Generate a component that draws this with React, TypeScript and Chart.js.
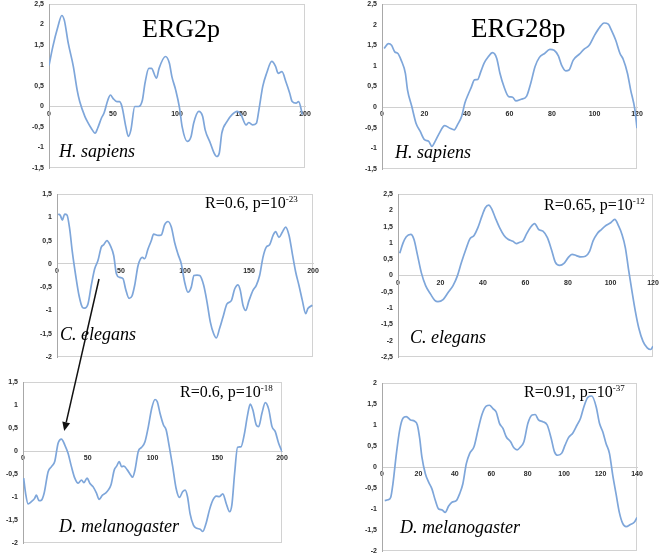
import React, { useEffect, useRef } from "react";
import { Chart, registerables } from "chart.js";

Chart.register(...registerables);

// ---------- DATA ----------
// ERG2p, H. sapiens
const erg2HsX = [0,3,7,10,12,15,19,22,24,28,30,33,36,38,41,43,46,48,50,53,55,57,60,62,64,67,70,73,75,78,80,84,86,91,94,96,99,102,104,108,111,113,117,120,122,126,129,131,133,135,139,143,147,150,154,156,159,162,164,167,170,174,177,179,182,185,188,190,193,195,198];
const erg2HsY = [1.0,1.46,1.95,2.22,2.1,1.55,0.98,0.4,0.12,-0.24,-0.37,-0.53,-0.65,-0.53,-0.28,-0.16,0.16,0.28,0.2,0.12,0.12,0,-0.49,-0.73,-0.57,0,0,0.16,0.57,0.93,0.93,0.69,0.93,1.22,1.06,0.73,0.4,-0.04,-0.49,-0.85,-0.73,-0.41,-0.12,-0.24,-0.57,-0.89,-1.14,-1.22,-1.14,-0.65,-0.37,-0.2,-0.12,-0.2,-0.45,-0.39,-0.45,-0.41,-0.08,0.49,0.81,1.1,0.98,0.81,0.85,0.61,0.33,0.12,0.08,0.12,-0.2];

// ERG28p, H. sapiens
const erg28HsX = [1,3,4.5,6,7.5,9,11,12,14,16,18,20,22,23.5,25,27,29.5,32,34,35.5,37.5,39,40.5,42,43.5,45,46.5,48,50,52,54,55.5,57.5,59.5,61.5,63,65.5,68,70,72,74,76.5,79,81,83,84.5,86.5,88,90,93,95,97.5,100,102.5,104.5,106.5,108,110,112,113.5,115.5,117,119,120];
const erg28HsY = [1.42,1.54,1.5,1.34,1.3,1.14,0.82,0.42,0.02,-0.39,-0.59,-0.79,-0.83,-0.95,-0.83,-0.63,-0.45,-0.51,-0.55,-0.43,-0.22,0.1,0.3,0.48,0.66,0.67,0.86,1.06,1.22,1.32,1.18,0.82,0.48,0.26,0.24,0.15,0.19,0.26,0.58,0.98,1.2,1.3,1.4,1.38,1.24,1.02,0.88,0.9,1.14,1.29,1.4,1.5,1.74,1.94,2.04,2.01,1.86,1.62,1.3,1.16,0.82,0.42,-0.06,-0.51];

// ERG2p, C. elegans
const erg2CeX = [1,2.6,4.2,6,7.8,9.9,12,14.6,17.2,19.8,21.6,24.2,26.8,29.4,32,34.6,36.5,39,41.7,44.3,46.4,49,51.6,53.6,56.3,58.6,60.7,63.3,66.7,68.5,71.1,73.7,75.5,78.9,81.5,84.1,86.7,89.3,91.9,94.5,97.1,99.7,102.3,104.9,107,109.4,111.5,114.6,117.2,119.8,122.4,124.5,127,129.7,132.8,136.2,138.8,141.4,143.2,145.3,147.4,150,153.1,155.7,158.3,160.9,163.5,166.1,168.8,170.8,173.4,176,178.6,181.3,183.9,186.5,189,191.7,194.3,196,199.5];
const erg2CeY = [1.07,1.04,0.94,1.07,1.05,0.75,0.25,-0.25,-0.68,-0.93,-0.95,-0.86,-0.46,-0.11,0.07,0.36,0.41,0.5,0.39,0.18,-0.21,-0.29,-0.32,-0.54,-0.74,-0.69,-0.46,-0.04,0.14,0.11,0.32,0.5,0.64,0.61,0.62,0.84,0.91,0.79,0.46,0.21,0,-0.39,-0.61,-0.5,-0.25,-0.24,-0.25,-0.46,-0.82,-1.25,-1.5,-1.59,-1.39,-1.14,-0.86,-0.79,-0.54,-0.45,-0.57,-0.89,-1,-0.79,-0.57,-0.46,-0.25,0.14,0.36,0.41,0.61,0.69,0.57,0.68,0.79,0.61,0.21,-0.18,-0.46,-0.79,-1.07,-0.96,-0.89];

// ERG28p, C. elegans
const erg28CeX = [0.8,2.4,3.9,6,7.5,9.1,11,13,15.4,17.3,18.8,21.2,23.5,25.9,27.9,29.8,32.2,33.7,35.8,37.6,39.5,41.1,42.7,44.2,45.8,47.8,49.9,51.8,54.1,55.7,57.3,58.8,60.4,62.3,64.3,66.2,68.2,70.3,72.2,74,76.1,78.1,80,81.9,83.9,86,88.2,90.2,91.8,93.8,95.7,98,100.1,102,103.8,105.4,107,108.5,110.1,111.7,113.3,115.3,117.3,118.9,120];
const erg28CeY = [0.68,1.0,1.19,1.26,1.11,0.65,0.08,-0.31,-0.58,-0.76,-0.8,-0.74,-0.53,-0.31,-0.02,0.39,0.85,1.11,1.23,1.47,1.82,2.08,2.16,2.03,1.77,1.47,1.23,1.11,1.05,0.98,1.02,1.06,1.26,1.47,1.59,1.41,1.36,1.16,0.8,0.41,0.31,0.37,0.54,0.65,0.61,0.57,0.59,0.75,1.06,1.29,1.41,1.54,1.62,1.72,1.52,1.26,0.85,0.18,-0.48,-1.1,-1.61,-2.02,-2.22,-2.27,-2.17];

// ERG2p, D. melanogaster
const erg2DmX = [0.5,2,3.9,6.5,9,10.3,12.4,14.2,16.3,19.4,22,24.5,27.1,29.7,32.3,34.8,37.4,40,42.6,45.2,47,49.5,51.6,54.2,56.8,58.8,61.4,64,65.8,67.9,70.5,72.3,74.3,76.1,77.9,80.5,83.1,84.6,86.5,89,91.6,94.2,96.8,99.4,102,103.7,105.8,108.4,110.5,113,115.6,118.2,120.8,123.4,125.2,127,129,131.6,134.2,136.8,138.8,141.4,144,146.6,149.2,151.7,154.3,156.9,159.5,161.3,163.4,165.7,168.3,170.8,173.4,175.5,177.5,180.1,182,184.5,187.1,189.7,192.3,194.8,197.4,200];
const erg2DmY = [-0.59,-0.92,-1.15,-1.1,-1.03,-0.96,-1.08,-1.07,-0.92,-0.45,-0.34,-0.23,0.17,0.26,0.13,-0.05,-0.34,-0.59,-0.7,-0.63,-0.69,-0.59,-0.7,-0.78,-0.92,-1.05,-0.96,-0.91,-0.85,-0.74,-0.41,-0.33,-0.23,-0.34,-0.33,-0.41,-0.52,-0.57,-0.41,-0.01,0.08,0.2,0.53,0.93,1.12,1.07,0.82,0.57,0.46,0.09,-0.34,-0.81,-1.01,-0.88,-0.85,-0.99,-1.36,-1.61,-1.68,-1.7,-1.75,-1.57,-1.28,-1.07,-0.98,-0.99,-0.93,-1.14,-1.32,-1.17,-0.49,0.08,0.09,0.35,0.78,1.02,0.89,0.57,0.53,0.82,1.05,0.91,0.53,0.42,0.17,-0.01];

// ERG28p, D. melanogaster
const erg28DmX = [1.5,3.3,4.8,6,7.9,9.7,11.5,13.3,15.7,17.9,19.4,20.7,21.9,23.8,25.6,27.4,29.3,31.1,32.9,34.7,36.6,38.4,40.8,42.6,44.4,46.3,48.1,50.5,52.7,54.8,57.2,59,60.9,62.7,64.5,66.4,68.2,70.6,72.4,74.2,76.1,77.9,80.1,82.4,84.1,85.9,88.3,90.7,92.9,94.7,96.5,98.7,100.5,102.4,104.8,107.1,109,110.8,113,115.2,117.6,119.4,121.2,123,124.9,126.7,128.5,130.3,132.2,134,136.4,138.6,140];
const erg28DmY = [-0.8,-0.78,-0.72,-0.4,0.32,0.88,1.16,1.2,1.12,1.09,1.0,0.68,0.24,-0.16,-0.36,-0.52,-0.8,-1.0,-1.02,-1.08,-0.93,-0.84,-0.8,-0.64,-0.4,0.08,0.32,0.48,0.88,1.24,1.45,1.47,1.39,1.31,1.04,0.92,0.72,0.6,0.46,0.41,0.48,0.6,1.04,1.24,1.25,1.12,1.08,1.0,0.68,0.36,0.28,0.33,0.52,0.7,0.81,1.0,1.16,1.43,1.66,1.69,1.43,1.04,0.84,0.56,0.32,-0.2,-0.64,-1.08,-1.35,-1.42,-1.37,-1.31,-1.2];

// Axis ranges
const xMaxErg2 = 200;
const xStepErg2 = 50;
const xMaxErg28Hs = 120;
const xMaxErg28Ce = 120;
const xMaxErg28Dm = 140;
const xStepErg28 = 20;
const yStep = 0.5;

// ---------- LAYOUT / STYLE ----------
const LINE_COLOR = "#7ea6da";
const YW = 22; // y-axis width
const PT = 6;
const PR = 14;
const PB = 4;

type PanelDef = {
  xs: number[];
  ys: number[];
  xMax: number;
  xStep: number;
  yMin: number;
  yMax: number;
  rect: { l: number; t: number; r: number; b: number };
};

const panels: PanelDef[] = [
  { xs: erg2HsX, ys: erg2HsY, xMax: xMaxErg2, xStep: xStepErg2, yMin: -1.5, yMax: 2.5, rect: { l: 49, t: 4, r: 305, b: 168 } },
  { xs: erg28HsX, ys: erg28HsY, xMax: xMaxErg28Hs, xStep: xStepErg28, yMin: -1.5, yMax: 2.5, rect: { l: 382, t: 4, r: 637, b: 169 } },
  { xs: erg2CeX, ys: erg2CeY, xMax: xMaxErg2, xStep: xStepErg2, yMin: -2, yMax: 1.5, rect: { l: 57, t: 194, r: 313, b: 357 } },
  { xs: erg28CeX, ys: erg28CeY, xMax: xMaxErg28Ce, xStep: xStepErg28, yMin: -2.5, yMax: 2.5, rect: { l: 398, t: 194, r: 653, b: 357 } },
  { xs: erg2DmX, ys: erg2DmY, xMax: xMaxErg2, xStep: xStepErg2, yMin: -2, yMax: 1.5, rect: { l: 23, t: 382, r: 282, b: 543 } },
  { xs: erg28DmX, ys: erg28DmY, xMax: xMaxErg28Dm, xStep: xStepErg28, yMin: -2, yMax: 2, rect: { l: 382, t: 383, r: 637, b: 551 } },
];

const framePlugin = {
  id: "frame",
  beforeDraw(chart: any) {
    const { ctx, chartArea: a } = chart;
    ctx.save();
    ctx.strokeStyle = "#d2d2d2";
    ctx.lineWidth = 1;
    ctx.strokeRect(Math.round(a.left) + 0.5, Math.round(a.top) + 0.5, Math.round(a.right - a.left) - 1, Math.round(a.bottom - a.top) - 1);
    ctx.restore();
  },
};

const tickFont = { family: "'Liberation Sans', Arial, sans-serif", size: 7, weight: "bold" as const };

function Panel({ def }: { def: PanelDef }) {
  const ref = useRef<HTMLCanvasElement | null>(null);
  const { rect } = def;
  const left = rect.l - YW;
  const top = rect.t - PT;
  const width = rect.r - rect.l + YW + PR;
  const height = rect.b - rect.t + PT + PB;

  useEffect(() => {
    if (!ref.current) return;
    const chart = new Chart(ref.current, {
      type: "line",
      data: {
        datasets: [
          {
            data: def.xs.map((x, i) => ({ x, y: def.ys[i] })),
            borderColor: LINE_COLOR,
            borderWidth: 1.7,
            pointRadius: 0,
            fill: false,
            cubicInterpolationMode: "monotone",
          },
        ],
      },
      options: {
        responsive: false,
        animation: false,
        layout: { padding: { left: 0, top: PT, right: PR, bottom: PB } },
        plugins: { legend: { display: false }, tooltip: { enabled: false } },
        scales: {
          x: {
            type: "linear",
            min: 0,
            max: def.xMax,
            position: { y: 0 } as any,
            grid: { display: true, drawOnChartArea: false, drawTicks: false },
            border: { display: true, color: "#d0d0d0", width: 1 },
            ticks: {
              stepSize: def.xStep,
              autoSkip: false,
              maxRotation: 0,
              padding: 3,
              color: "#2a2a2a",
              font: tickFont,
            },
            afterFit: (s: any) => {
              s.height = 0;
              s.paddingLeft = 0;
              s.paddingRight = 0;
            },
          },
          y: {
            type: "linear",
            min: def.yMin,
            max: def.yMax,
            grid: { display: true, drawOnChartArea: false, drawTicks: false },
            border: { display: true, color: "#a8a8a8", width: 1 },
            ticks: {
              stepSize: yStep,
              padding: 5,
              color: "#2a2a2a",
              font: tickFont,
              callback: (v: any) => String(Math.round(Number(v) * 10) / 10).replace(".", ","),
            },
            afterFit: (s: any) => {
              s.width = YW;
              s.paddingTop = 0;
              s.paddingBottom = 0;
            },
          },
        },
      } as any,
      plugins: [framePlugin],
    });
    return () => chart.destroy();
  }, [def]);

  return (
    <canvas
      ref={ref}
      width={width}
      height={height}
      style={{ position: "absolute", left, top, width, height }}
    />
  );
}

const serif = "'Liberation Serif', 'Times New Roman', serif";

function Label({ text, left, top, size, italic }: { text: string; left: number; top: number; size: number; italic?: boolean }) {
  return (
    <div
      style={{
        position: "absolute",
        left,
        top,
        fontFamily: serif,
        fontSize: size,
        lineHeight: 1,
        fontStyle: italic ? "italic" : "normal",
        whiteSpace: "nowrap",
        color: "#000",
      }}
    >
      {text}
    </div>
  );
}

function Stat({ r, exp, left, top }: { r: string; exp: string; left: number; top: number }) {
  return (
    <div
      style={{
        position: "absolute",
        left,
        top,
        fontFamily: serif,
        fontSize: 16,
        lineHeight: 1,
        whiteSpace: "nowrap",
        color: "#000",
      }}
    >
      {`R=${r}, p=10`}
      <span style={{ fontSize: 9, position: "relative", top: -6 }}>{exp}</span>
    </div>
  );
}

export default function App() {
  return (
    <div
      style={{
        position: "fixed",
        left: 0,
        top: 0,
        width: 662,
        height: 554,
        background: "#fff",
        overflow: "hidden",
      }}
    >
      {panels.map((p, i) => (
        <Panel key={i} def={p} />
      ))}

      <Label text="ERG2p" left={142} top={15.5} size={26} />
      <Label text="ERG28p" left={471} top={14.7} size={27} />

      <Label text="H. sapiens" left={59} top={142} size={18} italic />
      <Label text="H. sapiens" left={395} top={142.5} size={18} italic />
      <Label text="C. elegans" left={60} top={324.5} size={18} italic />
      <Label text="C. elegans" left={410} top={328} size={18} italic />
      <Label text="D. melanogaster" left={59} top={517} size={18} italic />
      <Label text="D. melanogaster" left={400} top={518} size={18} italic />

      <Stat r="0.6" exp="-23" left={205} top={195.3} />
      <Stat r="0.65" exp="-12" left={544} top={196.6} />
      <Stat r="0.6" exp="-18" left={180} top={384.3} />
      <Stat r="0.91" exp="-37" left={524} top={384.3} />

      <svg
        width={662}
        height={554}
        style={{ position: "absolute", left: 0, top: 0, pointerEvents: "none" }}
      >
        <line x1={99} y1={279} x2={66.2} y2={422.4} stroke="#111" strokeWidth={1.5} />
        <polygon points="64.2,431 70.1,423.3 62.3,421.5" fill="#111" />
      </svg>
    </div>
  );
}
